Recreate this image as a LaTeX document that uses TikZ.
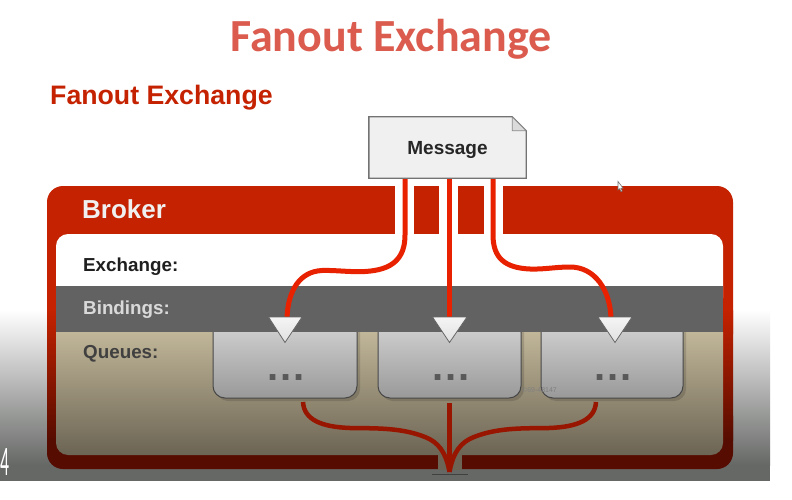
\documentclass[tikz,border=0pt]{standalone}
\usepackage{fontspec}
\setmainfont{Liberation Sans}
\newfontfamily\titlefont{Carlito}
\usetikzlibrary{calc}
\definecolor{brokerred}{HTML}{C42200}
\definecolor{brokerdark}{HTML}{560C00}
\definecolor{wire}{HTML}{E82200}
\definecolor{wiredark}{HTML}{981600}
\definecolor{bandgray}{HTML}{626262}
\definecolor{titlered}{HTML}{DB5C4E}
\definecolor{fadegray}{HTML}{666866}
\definecolor{tantop}{HTML}{C9BE9F}
\definecolor{tanlow}{HTML}{6C6454}
\tikzset{
  x=1pt,y=-1pt,
  wireline/.style={draw=wire,line width=5pt},
  wirelow/.style={draw=wiredark,line width=4.5pt},
  queuebox/.style={draw=black!72,line width=1pt,top color=black!17,bottom color=black!40,rounded corners=12pt},
  queueshadow/.style={fill=black,opacity=.14,rounded corners=12pt},
  arrowmark/.style={draw=black!60,line width=.8pt,top color=black!4,bottom color=black!12},
  rowlabel/.style={font=\bfseries\fontsize{18.8}{18.8}\selectfont,anchor=base west,inner sep=0pt},
  dotslabel/.style={font=\bfseries\fontsize{40}{40}\selectfont,anchor=base,inner sep=0pt,text=black!65},
}
\begin{document}
\begin{tikzpicture}
\useasboundingbox (0,0) rectangle (792,500);
\fill[white] (0,0) rectangle (792,500);
% video fade
\shade[top color=white,bottom color=fadegray] (0,310) rectangle (770,465);
\fill[fadegray] (0,464.5) rectangle (770,481);
% frame
\fill[brokerred,rounded corners=16pt] (47,186) rectangle (733,350);
\fill[brokerdark,rounded corners=16pt] (47,400) rectangle (733,469);
\shade[top color=brokerred,bottom color=brokerdark] (47,310) rectangle (733,440);
% gaps in the frame
\fill[white] (395,185) rectangle (414,234);
\fill[white] (439,185) rectangle (458,234);
\fill[white] (484,185) rectangle (503,234);
% interior
\fill[white,rounded corners=12pt] (56,234) rectangle (723,310);
\shade[top color=tantop,bottom color=tanlow,rounded corners=12pt] (56,320) rectangle (723,455);
% queues
\fill[queueshadow] (216,320) rectangle (360,401);
\fill[queueshadow] (381,320) rectangle (524,401);
\fill[queueshadow] (544,320) rectangle (686,401);
\path[queuebox] (213,320) rectangle (357,398);
\path[queuebox] (378,320) rectangle (521,398);
\path[queuebox] (541,320) rectangle (683,398);
\fill[bandgray] (56,286) rectangle (723,332);
\node[dotslabel] (dotsa) at (286,380.5) {.\kern1.9pt.\kern1.9pt.};
\node[dotslabel] (dotsb) at (451.5,380.5) {.\kern1.9pt.\kern1.9pt.};
\node[dotslabel] (dotsc) at (613,380.5) {.\kern1.9pt.\kern1.9pt.};
\node[inner sep=0pt,anchor=base,text=black!50,font=\fontsize{7}{7}\selectfont] (mark) at (539.5,392) {©69-48147};
% message
\node[minimum width=157pt,minimum height=61pt,inner sep=0pt] (msg) at (447.5,147.5) {};
\draw[draw=black!55,line width=1.4pt,fill=black!6] (msg.south west) -- (msg.north west) -- ($(msg.north east)+(-14,0)$) -- ($(msg.north east)+(0,14)$) -- (msg.south east) -- cycle;
\draw[draw=black!45,fill=black!14,line width=.8pt] ($(msg.north east)+(-14,0)$) -- ($(msg.north east)+(-14,14)$) -- ($(msg.north east)+(0,14)$) -- cycle;
\node[inner sep=0pt,anchor=base,text=black!85,font=\bfseries\fontsize{19}{19}\selectfont] (msgtext) at (447.5,154.5) {Message};
% arrows
\coordinate (ta) at (287,318);
\coordinate (tb) at (449.5,318);
\coordinate (tc) at (611,318);
\coordinate (wa) at (405,179);
\coordinate (wb) at (449.5,179);
\coordinate (wc) at (493,179);
\draw[wireline] (wa) -- (405,235) .. controls (405,258) and (393,270) .. (365,271.5) .. controls (350,272.3) and (335,270) .. (322,270.5) .. controls (300,271.5) and (288,290) .. (ta);
\draw[wireline] (wb) -- (tb);
\draw[wireline] (wc) -- (493,235) .. controls (493,258) and (505,268) .. (530,269) .. controls (545,269.5) and (555,267) .. (570,267) .. controls (595,267) and (610,290) .. (tc);
\path[arrowmark] (268.5,317) -- (302,317) -- (285,342.5) -- cycle;
\path[arrowmark] (432.5,317) -- (467,317) -- (449.5,342.5) -- cycle;
\path[arrowmark] (598,317) -- (632,317) -- (615,342.5) -- cycle;
% bottom fork
\fill[tanlow] (438,454) rectangle (462,470);
\coordinate (fork) at (449.5,472);
\draw[wirelow] (303,402) .. controls (304,420) and (322,427) .. (350,428) .. controls (372,428.5) and (400,427) .. (425,437) .. controls (438,442) and (446,452) .. (fork);
\draw[wirelow] (449.5,403) -- (fork);
\draw[wirelow] (596,402) .. controls (595,420) and (577,427) .. (549,428) .. controls (527,428.5) and (499,427) .. (474,437) .. controls (461,442) and (453,452) .. (fork);
\draw[draw=black!75,line width=1.6pt] (432,474.5) -- (468,474.5);
% cursor
\path[fill=white,draw=black!55,line width=.6pt] (618,181.5) -- (618,190) -- (619.8,188.6) -- (621,191.6) -- (622.2,191) -- (621,188.2) -- (623,188) -- cycle;
% labels
\node[inner sep=0pt,anchor=base,text=titlered,font=\titlefont\bfseries\fontsize{46}{46}\selectfont] (title) at (391,52) {Fanout Exchange};
\node[inner sep=0pt,anchor=base west,text=brokerred,font=\bfseries\fontsize{26.7}{26.7}\selectfont] (sub) at (50,105) {Fanout Exchange};
\node[inner sep=0pt,anchor=base west,text=black!6,font=\bfseries\fontsize{26}{26}\selectfont] (broker) at (82,218) {Broker};
\node[rowlabel,text=black!88] (lexch) at (83,271.5) {Exchange:};
\node[rowlabel,text=black!15] (lbind) at (83,314) {Bindings:};
\node[rowlabel,text=black!75] (lqueue) at (83,358) {Queues:};
\node[inner sep=0pt,anchor=base west,text=white,font=\titlefont\fontsize{42}{42}\selectfont] (four) at (0,475) {\scalebox{.42}[1]{4}};
\end{tikzpicture}
\end{document}
